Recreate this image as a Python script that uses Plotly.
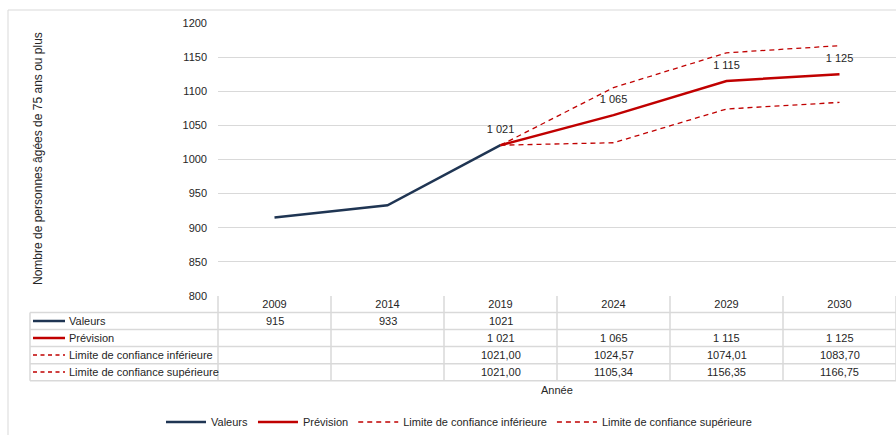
import plotly.graph_objects as go

# ---- data ----
years = ["2009", "2014", "2019", "2024", "2029", "2030"]
valeurs = [915, 933, 1021, None, None, None]
prevision = [None, None, 1021, 1065, 1115, 1125]
lim_inf = [None, None, 1021.00, 1024.57, 1074.01, 1083.70]
lim_sup = [None, None, 1021.00, 1105.34, 1156.35, 1166.75]
y_ticks = [800, 850, 900, 950, 1000, 1050, 1100, 1150, 1200]

series_names = ["Valeurs", "Prévision", "Limite de confiance inférieure", "Limite de confiance supérieure"]

# ---- geometry helpers (pixel -> paper) ----
W, H = 896, 435
L, R, T, B = 218, 0, 23, 139
PW = W - L - R
PH = H - T - B


def px(x):
    return (x - L) / PW


def py(y):
    return (H - B - y) / PH


def fmt_fr(v):
    return f"{v:,.0f}".replace(",", " ")


def fmt_dec(v):
    return f"{v:.2f}".replace(".", ",")


NAVY = "#1f3553"
RED = "#c00000"
GRID = "#d9d9d9"
TXT = "#262626"
FONT = "Liberation Sans, Arial, sans-serif"

fig = go.Figure()
fig.add_trace(go.Scatter(x=years, y=valeurs, name=series_names[0], mode="lines",
                         line=dict(color=NAVY, width=2.5), hoverinfo="skip"))
fig.add_trace(go.Scatter(x=years, y=prevision, name=series_names[1], mode="lines",
                         line=dict(color=RED, width=2.5), hoverinfo="skip"))
fig.add_trace(go.Scatter(x=years, y=lim_inf, name=series_names[2], mode="lines",
                         line=dict(color=RED, width=1.3, dash="5px,4px"), hoverinfo="skip"))
fig.add_trace(go.Scatter(x=years, y=lim_sup, name=series_names[3], mode="lines",
                         line=dict(color=RED, width=1.3, dash="5px,4px"), hoverinfo="skip"))
# data labels for the forecast series
fig.add_trace(go.Scatter(x=years, y=prevision, mode="markers+text", showlegend=False, hoverinfo="skip",
                         marker=dict(size=14, opacity=0, color=RED),
                         text=[fmt_fr(v) if v is not None else "" for v in prevision],
                         textposition="top center",
                         textfont=dict(size=11, color=TXT, family=FONT)))

shapes = []
annotations = []

# outer chart border
shapes.append(dict(type="line", xref="paper", yref="paper", x0=px(8), x1=px(8), y0=py(10), y1=py(440),
                   line=dict(color=GRID, width=1)))
shapes.append(dict(type="line", xref="paper", yref="paper", x0=px(8), x1=px(900), y0=py(10), y1=py(10),
                   line=dict(color=GRID, width=1)))

# data table grid
row_lines = [312.5, 329.5, 346.5, 363.8, 380.8]
for yy in row_lines:
    shapes.append(dict(type="line", xref="paper", yref="paper", x0=px(30), x1=1.0, y0=py(yy), y1=py(yy),
                       line=dict(color=GRID, width=1.5)))
shapes.append(dict(type="line", xref="paper", yref="paper", x0=px(30), x1=px(30), y0=py(312.5), y1=py(380.8),
                   line=dict(color=GRID, width=1.5)))
for i in range(len(years) + 1):
    xx = L + i * PW / len(years)
    shapes.append(dict(type="line", xref="paper", yref="paper", x0=px(xx), x1=px(xx), y0=py(296), y1=py(380.8),
                       line=dict(color=GRID, width=1.5)))

# table rows: legend keys, labels and values
row_centers = [321, 338, 355, 372]
row_data = [
    [str(v) if v is not None else "" for v in valeurs],
    [fmt_fr(v) if v is not None else "" for v in prevision],
    [fmt_dec(v) if v is not None else "" for v in lim_inf],
    [fmt_dec(v) if v is not None else "" for v in lim_sup],
]
key_styles = [dict(color=NAVY, width=2.5), dict(color=RED, width=2.5),
              dict(color=RED, width=1.3, dash="4px,3.5px"), dict(color=RED, width=1.3, dash="4px,3.5px")]
for ri, (yc, name, vals, ks) in enumerate(zip(row_centers, series_names, row_data, key_styles)):
    shapes.append(dict(type="line", xref="paper", yref="paper", x0=px(33), x1=px(65), y0=py(yc), y1=py(yc),
                       line=ks))
    annotations.append(dict(xref="paper", yref="paper", x=px(67), y=py(yc), text=name, showarrow=False,
                            xanchor="left", yanchor="middle", font=dict(size=11, color=TXT, family=FONT)))
    for ci, txt in enumerate(vals):
        if txt:
            annotations.append(dict(xref="x", yref="paper", x=ci, y=py(yc), text=txt, showarrow=False,
                                    xanchor="center", yanchor="middle",
                                    font=dict(size=11, color=TXT, family=FONT)))

# axis titles
annotations.append(dict(xref="paper", yref="paper", x=px(557), y=py(390), text="Année", showarrow=False,
                        xanchor="center", yanchor="middle", font=dict(size=11, color=TXT, family=FONT)))
annotations.append(dict(xref="paper", yref="paper", x=px(38), y=py(158), text="Nombre de personnes âgées de 75 ans ou plus",
                        showarrow=False, textangle=-90, xanchor="center", yanchor="middle",
                        font=dict(size=12, color=TXT, family=FONT)))

fig.update_layout(
    width=W, height=H,
    margin=dict(l=L, r=R, t=T, b=B, autoexpand=False),
    paper_bgcolor="white", plot_bgcolor="white",
    font=dict(family=FONT, size=11, color=TXT),
    shapes=shapes, annotations=annotations,
    showlegend=True,
    hovermode=False,
    legend=dict(orientation="h", x=px(459), xanchor="center", y=py(422), yanchor="middle",
                itemwidth=40,
                font=dict(size=11, color=TXT, family=FONT), bgcolor="rgba(0,0,0,0)"),
    xaxis=dict(type="category", categoryorder="array", categoryarray=years, range=[-0.5, len(years) - 0.5],
               showgrid=False, showline=False, ticks="", tickfont=dict(size=11, color=TXT), ticklabelstandoff=0,
               zeroline=False, fixedrange=True),
    yaxis=dict(range=[800, 1200], tickvals=y_ticks, showgrid=True, gridcolor=GRID, gridwidth=1,
               showline=False, zeroline=False, ticks="", ticklabelstandoff=10,
               tickfont=dict(size=11, color=TXT), fixedrange=True),
)

fig.write_html("out.html", config={"displayModeBar": False, "staticPlot": True},
               post_script="document.body.style.margin='0';document.body.style.overflow='hidden';")
